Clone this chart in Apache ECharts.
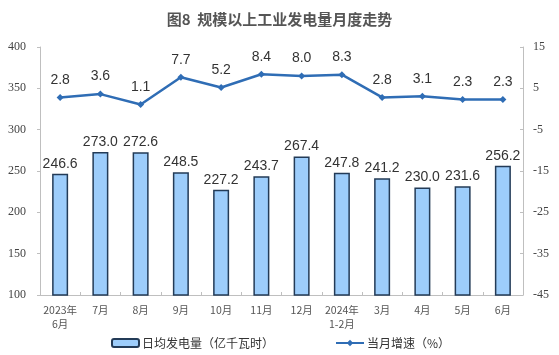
<!DOCTYPE html>
<html>
<head>
<meta charset="utf-8">
<script src="https://cdn.jsdelivr.net/npm/echarts@6/dist/echarts.min.js"></script>
<style>
    html, body { margin: 0; padding: 0; background: #fff; }
    #chart { width: 559px; height: 355px; }
</style>
</head>
<body>
<div id="chart"></div>
<script>
// 月份
const months = ['2023年\n6月', '7月', '8月', '9月', '10月', '11月', '12月', '2024年\n1-2月', '3月', '4月', '5月', '6月'];
// 日均发电量（亿千瓦时）
const dailyOutput = [246.6, 273.0, 272.6, 248.5, 227.2, 243.7, 267.4, 247.8, 241.2, 230.0, 231.6, 256.2];
// 当月增速（%）
const growthRate = [2.8, 3.6, 1.1, 7.7, 5.2, 8.4, 8.0, 8.3, 2.8, 3.1, 2.3, 2.3];
// 坐标轴范围
const leftTicks = [100, 400, 50];
const rightTicks = [-45, 15, 10];

const chart = echarts.init(document.getElementById('chart'));

const serif = '"Liberation Serif", "Times New Roman", serif';
const cjk = '"Noto Sans CJK SC", sans-serif';
const sans = '"Liberation Sans", Arial, sans-serif';

const option = {
    animation: false,
    title: {
        text: '图8  规模以上工业发电量月度走势',
        left: 'center',
        top: 7,
        textStyle: { fontFamily: cjk, fontSize: 15, fontWeight: 'bold', color: '#555' }
    },
    legend: [
        {
            data: ['日均发电量（亿千瓦时）'],
            left: 106,
            top: 332,
            itemWidth: 27,
            itemHeight: 8,
            itemGap: 4,
            textStyle: { fontFamily: cjk, fontSize: 12, color: '#333', padding: [0, 0, 0, -2] }
        },
        {
            data: ['当月增速（%）'],
            left: 330,
            top: 332,
            itemWidth: 28,
            itemHeight: 8,
            textStyle: { fontFamily: cjk, fontSize: 12, color: '#333', padding: [0, 0, 0, -2] }
        }
    ],
    grid: { left: 40, right: 36, top: 47, bottom: 60 },
    xAxis: {
        type: 'category',
        data: months,
        axisLine: { onZero: false, lineStyle: { color: '#bfbfbf' } },
        axisTick: { show: true, inside: true, length: 3, lineStyle: { color: '#bfbfbf' } },
        axisLabel: {
            fontFamily: cjk, fontSize: 10.5, color: '#555', margin: 8, lineHeight: 14, interval: 0
        }
    },
    yAxis: [
        {
            type: 'value',
            min: leftTicks[0],
            max: leftTicks[1],
            interval: leftTicks[2],
            splitLine: { show: false },
            axisLine: { show: true, lineStyle: { color: '#bfbfbf' } },
            axisTick: { show: true, length: 3, lineStyle: { color: '#bfbfbf' } },
            axisLabel: { fontFamily: serif, fontSize: 12, color: '#444', align: 'left', margin: 32 }
        },
        {
            type: 'value',
            min: rightTicks[0],
            max: rightTicks[1],
            interval: rightTicks[2],
            splitLine: { show: false },
            axisLine: { show: true, lineStyle: { color: '#bfbfbf' } },
            axisTick: { show: true, inside: true, length: 3, lineStyle: { color: '#bfbfbf' } },
            axisLabel: { fontFamily: serif, fontSize: 12, color: '#444', margin: 10 }
        }
    ],
    series: [
        {
            name: '日均发电量（亿千瓦时）',
            type: 'bar',
            data: dailyOutput,
            barWidth: 16,
            itemStyle: { color: '#9dcdfb', borderColor: '#233b57', borderWidth: 1.5 },
            label: {
                show: true,
                position: 'top',
                distance: 3,
                formatter: p => p.value.toFixed(1),
                fontFamily: sans, fontSize: 14, color: '#333'
            }
        },
        {
            name: '当月增速（%）',
            type: 'line',
            yAxisIndex: 1,
            data: growthRate,
            symbol: 'diamond',
            symbolSize: 7,
            lineStyle: { color: '#2f6db5', width: 2.5 },
            itemStyle: { color: '#2f6db5' },
            label: {
                show: true,
                position: 'top',
                distance: 7,
                formatter: p => p.value.toFixed(1),
                fontFamily: sans, fontSize: 14, color: '#333'
            }
        }
    ]
};

chart.setOption(option);
</script>
</body>
</html>
